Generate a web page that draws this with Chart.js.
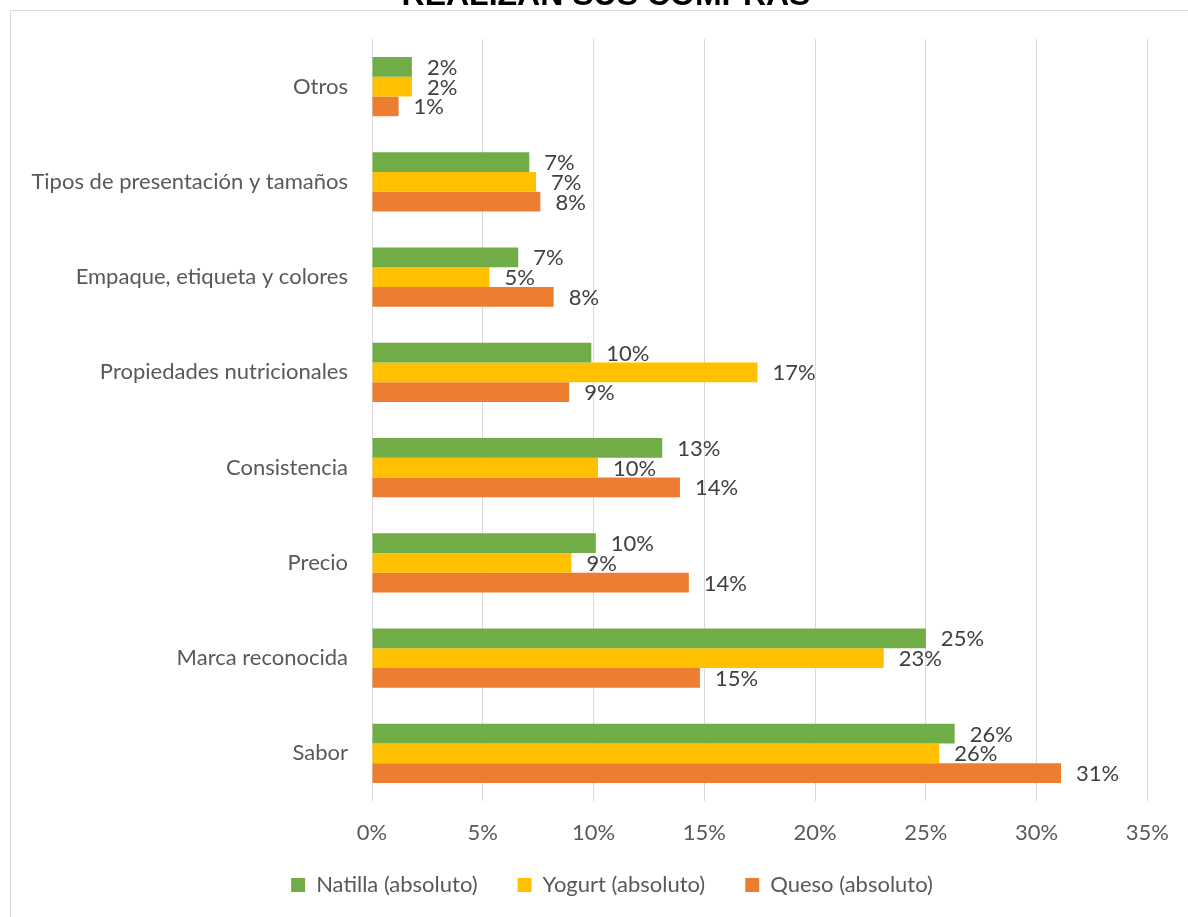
<!DOCTYPE html>
<html>
<head>
<meta charset="utf-8">
<script src="https://cdn.jsdelivr.net/npm/chart.js@4"></script>
<style>
  html, body { margin: 0; padding: 0; background: #fff; }
  #wrap { width: 1188px; height: 917px; }
</style>
</head>
<body>
<div id="wrap"><canvas id="myChart" width="1188" height="917"></canvas></div>
<script>
const categories = ['Otros', 'Tipos de presentación y tamaños', 'Empaque, etiqueta y colores',
  'Propiedades nutricionales', 'Consistencia', 'Precio', 'Marca reconocida', 'Sabor'];
const natilla = [1.8, 7.1, 6.6, 9.9, 13.1, 10.1, 25.0, 26.3];
const yogurt = [1.8, 7.4, 5.3, 17.4, 10.2, 9.0, 23.1, 25.6];
const queso = [1.2, 7.6, 8.2, 8.9, 13.9, 14.3, 14.8, 31.1];
const xTicks = [0, 5, 10, 15, 20, 25, 30, 35];
const titleText = 'REALIZAN SUS COMPRAS';

const fontFamily = 'Lato, "Noto Sans", sans-serif';

// frame, cut-off title and value labels
const extras = {
  id: 'extras',
  afterLayout(chart) {
    // big padding gives the wide item gaps; nudge the row to where it sits
    const lg = chart.legend;
    lg.top -= 8;
    lg.bottom -= 8;
    lg.left += 37;
    lg.right += 37;
  },
  beforeDraw(chart) {
    const c = chart.ctx;
    c.save();
    c.strokeStyle = '#D9D9D9';
    c.lineWidth = 1;
    c.beginPath();
    c.moveTo(10.5, 917);
    c.lineTo(10.5, 10.5);
    c.lineTo(1188, 10.5);
    c.stroke();
    c.fillStyle = '#000';
    c.font = 'bold 32px "Liberation Sans", Arial, sans-serif';
    c.textAlign = 'center';
    c.textBaseline = 'alphabetic';
    c.fillText(titleText, 606, 4.5);
    c.restore();
  },
  afterDatasetsDraw(chart) {
    const c = chart.ctx;
    c.save();
    c.fillStyle = '#404040';
    c.font = '22px ' + fontFamily;
    c.textAlign = 'left';
    c.textBaseline = 'middle';
    chart.data.datasets.forEach((ds, i) => {
      chart.getDatasetMeta(i).data.forEach((bar, j) => {
        c.fillText(Math.round(ds.data[j]) + '%', bar.x + 15, bar.y + 1);
      });
    });
    c.restore();
  }
};

new Chart(document.getElementById('myChart'), {
  type: 'bar',
  data: {
    labels: categories,
    datasets: [
      { label: 'Natilla (absoluto)', data: natilla, backgroundColor: '#70AD47' },
      { label: 'Yogurt (absoluto)', data: yogurt, backgroundColor: '#FFC000' },
      { label: 'Queso (absoluto)', data: queso, backgroundColor: '#ED7D31' }
    ]
  },
  options: {
    indexAxis: 'y',
    responsive: false,
    animation: false,
    layout: { padding: { left: 0, right: 38, top: 39, bottom: 3 } },
    datasets: { bar: { barPercentage: 1, categoryPercentage: 0.623, borderWidth: 0 } },
    scales: {
      x: {
        min: 0,
        max: 35,
        afterBuildTicks(axis) { axis.ticks = xTicks.map(v => ({ value: v })); },
        afterFit(axis) { axis.height = 41; },
        grid: { color: '#D9D9D9', lineWidth: 1, drawTicks: false },
        border: { display: false },
        ticks: {
          padding: 19,
          color: '#595959',
          font: { family: fontFamily, size: 22 },
          callback: v => v + '%'
        }
      },
      y: {
        afterFit(axis) { axis.width = 372; },
        grid: { display: false, drawTicks: false },
        border: { display: false },
        ticks: {
          padding: 24,
          color: '#595959',
          font: { family: fontFamily, size: 22 }
        }
      }
    },
    plugins: {
      legend: {
        position: 'bottom',
        labels: {
          boxWidth: 14,
          boxHeight: 14,
          padding: 40,
          color: '#595959',
          font: { family: fontFamily, size: 22 }
        }
      },
      tooltip: { enabled: false }
    }
  },
  plugins: [extras]
});
</script>
</body>
</html>
